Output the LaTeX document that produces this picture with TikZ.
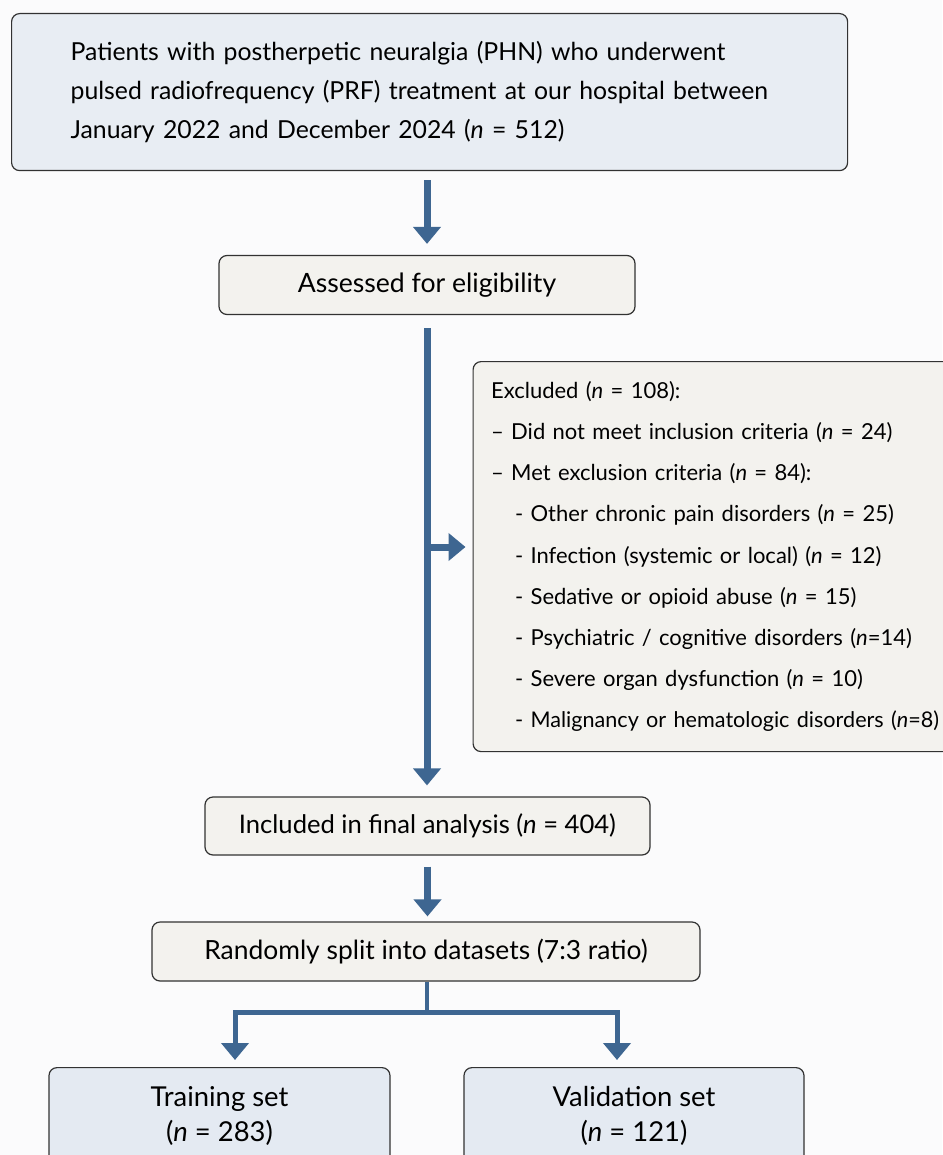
\documentclass[tikz,border=0pt]{standalone}
\usepackage{fontspec}
\setmainfont{Lato}
\usetikzlibrary{arrows.meta,calc}
\definecolor{arrowblue}{RGB}{62,102,145}
\definecolor{boxblue}{RGB}{232,237,243}
\definecolor{boxsand}{RGB}{243,242,238}
\definecolor{setblue}{RGB}{228,234,242}
\definecolor{bgwhite}{RGB}{251,251,252}
\definecolor{edgegrey}{RGB}{50,50,50}
\newcommand{\nn}{\textit{n}}

\begin{document}
\begin{tikzpicture}[x=0.5pt, y=-0.5pt, >={Triangle[width=13.5pt,length=8.5pt]},
    box/.style={draw=edgegrey, line width=0.6pt, rounded corners=4pt},
    flow/.style={->, draw=arrowblue, line width=3.5pt}]
    \useasboundingbox (0,0) rectangle (942,1155);
    \fill[bgwhite] (0,0) rectangle (942,1155);
    \node[box, fill=boxblue, anchor=north west, minimum height=78.5pt, text width=359pt, inner xsep=29.5pt, align=left, font=\fontsize{12.4}{19.5}\selectfont] (patients) at (11,13)
        {Patients with postherpetic neuralgia (PHN) who underwent\\ pulsed radiofrequency (PRF) treatment at our hospital between\\ January 2022 and December 2024 (\nn{} = 512)};
    \node[box, fill=boxsand, minimum width=208pt, minimum height=29.5pt, font=\fontsize{13.3}{15}\selectfont] (assess) at (427,285) {Assessed for eligibility};
    \node[box, fill=boxsand, anchor=north west, minimum height=195pt, text width=240pt, inner xsep=9pt, align=left, font=\fontsize{11}{20.6}\selectfont] (excl) at (472.5,361)
        {Excluded (\nn{} = 108):\\
        – Did not meet inclusion criteria (\nn{} = 24)\\
        – Met exclusion criteria (\nn{} = 84):\\
        \hspace*{12pt}- Other chronic pain disorders (\nn{} = 25)\\
        \hspace*{12pt}- Infection (systemic or local) (\nn{} = 12)\\
        \hspace*{12pt}- Sedative or opioid abuse (\nn{} = 15)\\
        \hspace*{12pt}- Psychiatric / cognitive disorders (\nn{}=14)\\
        \hspace*{12pt}- Severe organ dysfunction (\nn{} = 10)\\
        \hspace*{12pt}- {\fontsize{10.8}{20.6}\selectfont Malignancy or hematologic disorders (\nn{}=8)}};
    \node[box, fill=boxsand, minimum width=222.5pt, minimum height=29pt, font=\fontsize{12.8}{15}\selectfont] (incl) at (427.5,826) {Included in final analysis (\nn{} = 404)};
    \node[box, fill=boxsand, minimum width=274pt, minimum height=29.5pt, font=\fontsize{13.2}{15}\selectfont] (split) at (426,951.5) {Randomly split into datasets (7:3 ratio)};
    \node[box, fill=setblue, anchor=north, minimum width=170.5pt, minimum height=48.5pt, align=center, font=\fontsize{13.7}{17.5}\selectfont] (train) at (219.5,1067) {Training set\\ (\nn{} = 283)};
    \node[box, fill=setblue, anchor=north, minimum width=170pt, minimum height=48.5pt, align=center, font=\fontsize{13.7}{17.5}\selectfont] (valid) at (634,1067) {Validation set\\ (\nn{} = 121)};
    % connectors
    \draw[flow, shorten <=4.5pt, shorten >=5.5pt] (assess.north |- patients.south) -- (assess.north);
    \draw[flow, shorten <=6.5pt, shorten >=5.5pt] (assess.south) -- (assess.south |- incl.north);
    \coordinate (branch) at (427,547);
    \draw[flow, shorten >=3.5pt] (branch) -- (branch -| excl.west);
    \draw[flow, shorten <=5.5pt, shorten >=2.5pt] (incl.south) -- (incl.south |- split.north);
    \coordinate (fork) at (427,1012);
    \draw[draw=arrowblue, line width=2pt] (fork |- split.south) -- (fork);
    \draw[flow, line width=2.5pt, shorten >=3.5pt] (fork) -| ([xshift=7.75pt]train.north);
    \draw[flow, line width=2.5pt, shorten >=3.5pt] (fork) -| ([xshift=-8.5pt]valid.north);
\end{tikzpicture}
\end{document}
